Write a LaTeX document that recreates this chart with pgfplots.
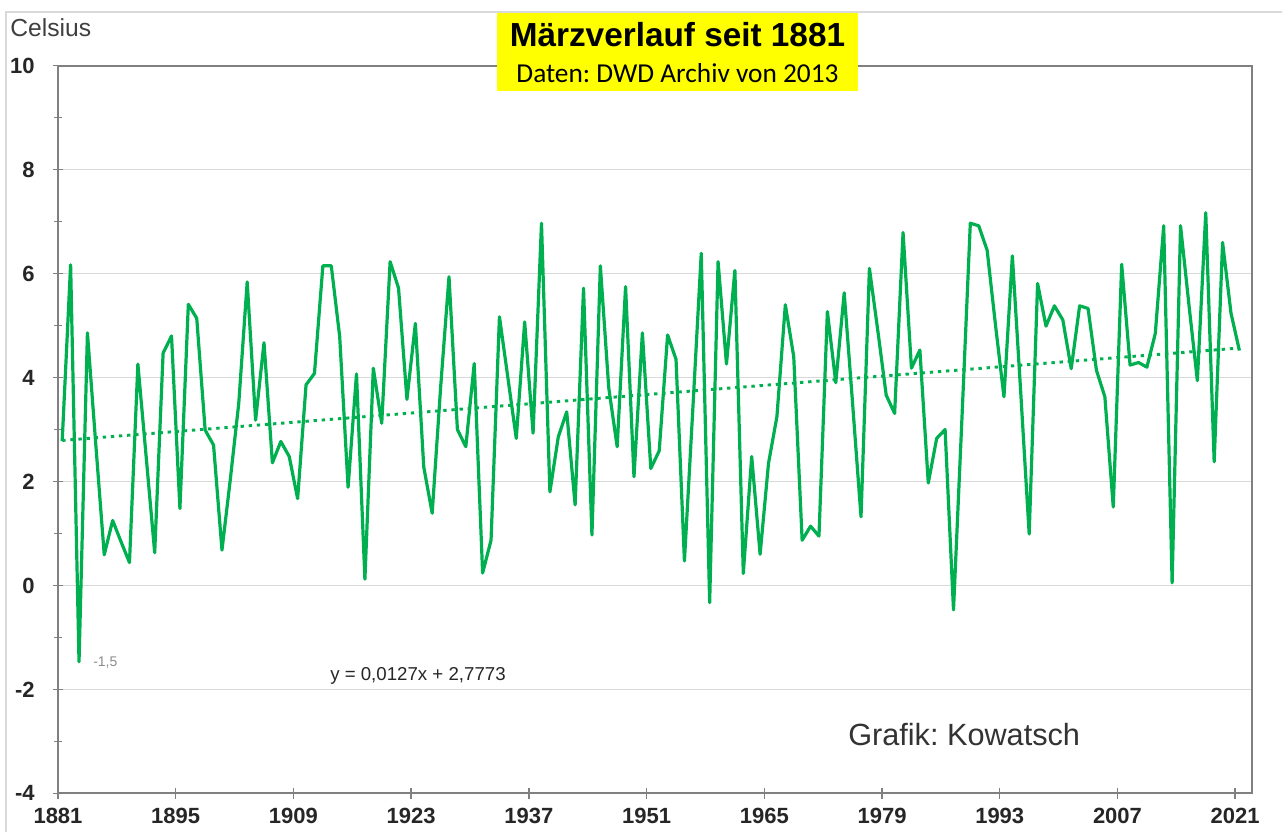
\documentclass[border=0pt]{standalone}
\usepackage{fontspec}
\setmainfont{Liberation Sans}
\newfontfamily\carlito{Carlito}
\usepackage{pgfplots}
\pgfplotsset{compat=1.18}
\frenchspacing
\definecolor{linegreen}{RGB}{0,176,80}
\definecolor{axgray}{RGB}{128,128,128}
\definecolor{gridgray}{RGB}{217,217,217}
\definecolor{ttlyellow}{RGB}{255,255,0}
\pgfplotstableread{
year temp
1881 2.78
1882 6.17
1883 -1.47
1884 4.86
1885 2.70
1886 0.59
1887 1.25
1888 0.84
1889 0.44
1890 4.26
1891 2.45
1892 0.63
1893 4.47
1894 4.80
1895 1.48
1896 5.41
1897 5.14
1898 2.99
1899 2.70
1900 0.68
1901 2.05
1902 3.51
1903 5.84
1904 3.18
1905 4.67
1906 2.36
1907 2.77
1908 2.48
1909 1.67
1910 3.86
1911 4.08
1912 6.15
1913 6.15
1914 4.79
1915 1.89
1916 4.07
1917 0.12
1918 4.18
1919 3.12
1920 6.23
1921 5.72
1922 3.58
1923 5.04
1924 2.28
1925 1.39
1926 3.80
1927 5.94
1928 3.00
1929 2.67
1930 4.27
1931 0.24
1932 0.87
1933 5.17
1934 4.00
1935 2.83
1936 5.07
1937 2.93
1938 6.97
1939 1.80
1940 2.86
1941 3.34
1942 1.55
1943 5.72
1944 0.97
1945 6.15
1946 3.80
1947 2.67
1948 5.75
1949 2.09
1950 4.86
1951 2.25
1952 2.59
1953 4.82
1954 4.35
1955 0.47
1956 3.40
1957 6.39
1958 -0.33
1959 6.23
1960 4.26
1961 6.06
1962 0.23
1963 2.48
1964 0.60
1965 2.35
1966 3.25
1967 5.40
1968 4.40
1969 0.87
1970 1.14
1971 0.95
1972 5.27
1973 3.90
1974 5.63
1975 3.50
1976 1.32
1977 6.10
1978 4.90
1979 3.66
1980 3.31
1981 6.79
1982 4.18
1983 4.53
1984 1.97
1985 2.83
1986 3.00
1987 -0.47
1988 3.20
1989 6.97
1990 6.92
1991 6.45
1992 5.00
1993 3.63
1994 6.34
1995 3.70
1996 0.99
1997 5.81
1998 4.99
1999 5.38
2000 5.11
2001 4.17
2002 5.38
2003 5.33
2004 4.14
2005 3.63
2006 1.51
2007 6.18
2008 4.24
2009 4.29
2010 4.20
2011 4.85
2012 6.92
2013 0.05
2014 6.92
2015 5.40
2016 3.94
2017 7.17
2018 2.38
2019 6.60
2020 5.24
2021 4.52
}\marzdata
\begin{document}
\begin{tikzpicture}
\path[use as bounding box] (0,0) rectangle (961.5pt,624pt);
\fill[white] (0,0) rectangle (961.5pt,624pt);
\draw[gridgray, line width=0.8pt] (4.5pt,0pt) -- (4.5pt,615pt) -- (961.5pt,615pt);
\begin{axis}[
  at={(43.5pt,29pt)}, anchor=south west,
  scale only axis, width=895.5pt, height=545.7pt,
  xmin=1880.5, xmax=2022.5, ymin=-4, ymax=10,
  xtick={1880.5,1894.5,1908.5,1922.5,1936.5,1950.5,1964.5,1978.5,1992.5,2006.5,2020.5},
  xticklabels={1881,1895,1909,1923,1937,1951,1965,1979,1993,2007,2021},
  ytick={-4,-2,0,2,4,6,8,10},
  yticklabels={-4,-2,0,2,4,6,8,10},
  minor ytick={-3,-1,1,3,5,7,9},
  tick pos=left,
  tick align=center,
  major tick length=8pt,
  minor tick length=6pt,
  tick style={draw=axgray, line width=1.1pt},
  minor tick style={draw=axgray, line width=1.1pt},
  axis line style={draw=axgray, line width=1.5pt},
  ymajorgrids,
  grid style={draw=gridgray, line width=0.8pt},
  ticklabel style={font=\bfseries\fontsize{16.5}{18}\selectfont, text=black!85},
  yticklabel style={xshift=-10pt},
  xticklabel style={yshift=-3.5pt},
  clip=false,
]
\addplot[linegreen, line width=2.4pt, line join=round] table[x=year, y=temp] {\marzdata};
\addplot[linegreen, line width=2.2pt, dash pattern=on 2.5pt off 3.6pt] coordinates {(1881,2.790) (2021,4.568)};
\end{axis}
\node[anchor=base west, inner sep=0pt, text=black!75, font=\fontsize{18.5}{20}\selectfont] at (7.5pt,596.25pt) {Celsius};
\fill[ttlyellow] (372.75pt,555.75pt) rectangle (643.5pt,614.25pt);
\node[anchor=base, inner sep=0pt, font=\bfseries\fontsize{25}{28}\selectfont] at (508.1pt,588.75pt) {Märzverlauf seit 1881};
\node[anchor=base, inner sep=0pt, font=\carlito\fontsize{20.5}{22}\selectfont] at (508.1pt,561.75pt) {Daten: DWD Archiv von 2013};
\node[anchor=base west, inner sep=0pt, text=black!80, font=\fontsize{23}{25}\selectfont] at (636pt,64.5pt) {Grafik: Kowatsch};
\node[anchor=base west, inner sep=0pt, text=black!85, font=\fontsize{14}{16}\selectfont] at (247.5pt,113.25pt) {y = 0,0127x + 2,7773};
\node[anchor=base west, inner sep=0pt, text=black!45, font=\fontsize{10.5}{12}\selectfont] at (69.75pt,123.75pt) {-1,5};
\end{tikzpicture}
\end{document}
